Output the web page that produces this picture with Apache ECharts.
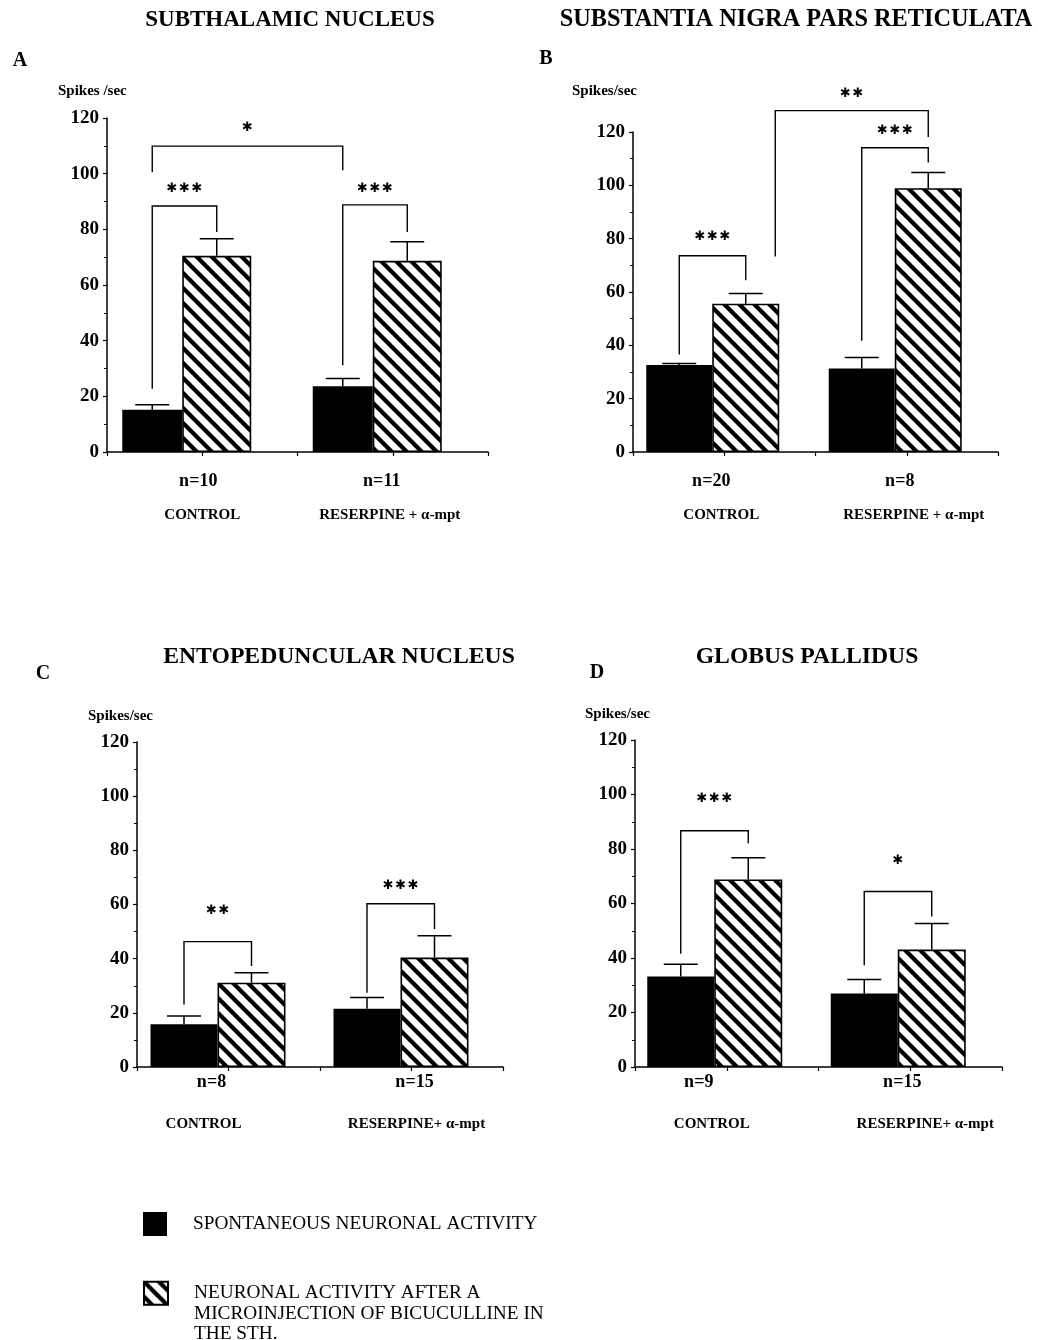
<!DOCTYPE html>
<html>
<head>
<meta charset="utf-8">
<script src="https://cdn.jsdelivr.net/npm/echarts@6/dist/echarts.min.js"></script>
<style>
html, body { margin: 0; padding: 0; background: #fff; }
#chart { width: 1038px; height: 1340px; }
</style>
</head>
<body>
<div id="chart"></div>
<script>
// ---- data ----
const panelTitles = ['SUBTHALAMIC NUCLEUS', 'SUBSTANTIA NIGRA PARS RETICULATA', 'ENTOPEDUNCULAR NUCLEUS', 'GLOBUS PALLIDUS']
const panelLetters = ['A', 'B', 'C', 'D']
const yNames = ['Spikes /sec', 'Spikes/sec', 'Spikes/sec', 'Spikes/sec']
const yTicks = [0, 20, 40, 60, 80, 100, 120]

const groupsTop = ['CONTROL', 'RESERPINE + α-mpt']
const groupsBottom = ['CONTROL', 'RESERPINE+ α-mpt']

const nA = ['n=10', 'n=11']
const nB = ['n=20', 'n=8']
const nC = ['n=8', 'n=15']
const nD = ['n=9', 'n=15']

// spontaneous activity (mean, SEM)
const spontA = [15.2, 23.6]
const spontErrA = [1.8, 2.8]
const spontB = [32.6, 31.3]
const spontErrB = [0.6, 4.1]
const spontC = [15.8, 21.5]
const spontErrC = [3.0, 4.2]
const spontD = [33.2, 27.0]
const spontErrD = [4.5, 5.1]

// after bicuculline (mean, SEM)
const bicA = [70.5, 68.7]
const bicErrA = [6.1, 6.8]
const bicB = [55.6, 98.9]
const bicErrB = [3.8, 5.9]
const bicC = [31.1, 40.4]
const bicErrC = [3.7, 8.1]
const bicD = [68.8, 43.1]
const bicErrD = [8.0, 9.6]

// significance brackets: [fromGroup, fromBar, toGroup, toBar, leftFoot, top, rightFoot, starLevel]
// bar 0 = spontaneous, 1 = bicuculline, 2 = right side of bicuculline bar
const bracketsA = [[0, 0, 0, 1, 22.7, 88.4, 79.0, 94.7], [1, 0, 1, 1, 31.2, 88.8, 79.0, 94.7], [0, 0, 1, 0, 100.5, 109.9, 101.2, 116.4]]
const starsA = ['***', '***', '*']
const bracketsB = [[0, 0, 0, 1, 36.6, 73.6, 64.4, 80.8], [0, 2, 1, 1, 73.3, 128.0, 118.1, 134.5], [1, 0, 1, 1, 41.7, 114.1, 108.6, 120.6]]
const starsB = ['***', '**', '***']
const bracketsC = [[0, 0, 0, 1, 23.1, 46.3, 37.3, 57.8], [1, 0, 1, 1, 27.4, 60.3, 51.0, 66.8]]
const starsC = ['**', '***']
const bracketsD = [[0, 0, 0, 1, 41.6, 86.7, 82.1, 98.4], [1, 0, 1, 1, 37.3, 64.4, 55.2, 75.6]]
const starsD = ['***', '*']

const legendSpont = 'SPONTANEOUS NEURONAL ACTIVITY'
const legendBic = 'NEURONAL ACTIVITY AFTER A\nMICROINJECTION OF BICUCULLINE IN\nTHE STH.'

// ---- layout ----
const panels = [
	{ n: nA, groups: groupsTop, spont: spontA, spontErr: spontErrA, bic: bicA, bicErr: bicErrA, brackets: bracketsA, stars: starsA,
		grid: { left: 107, top: 118, width: 381, height: 334 }, bw: [60, 69], spacer: 31,
		nMargin: 19, gLine: 48, nShift: [-4, -11], gShift: [0, -3],
		title: [290, 20], titleSize: 23, letter: [20, 61], yName: [58, 91] },
	{ n: nB, groups: groupsTop, spont: spontB, spontErr: spontErrB, bic: bicB, bicErr: bicErrB, brackets: bracketsB, stars: starsB,
		grid: { left: 633, top: 132, width: 365, height: 320 }, bw: [66, 67], spacer: 23,
		nMargin: 19, gLine: 48, nShift: [-13, -7], gShift: [-3, 7],
		title: [796, 20], titleSize: 24.3, letter: [546, 59], yName: [572, 91] },
	{ n: nC, groups: groupsBottom, spont: spontC, spontErr: spontErrC, bic: bicC, bicErr: bicErrC, brackets: bracketsC, stars: starsC,
		grid: { left: 137, top: 742, width: 366, height: 325 }, bw: [67, 68], spacer: 21,
		nMargin: 5, gLine: 64, nShift: [-17, 3], gShift: [-25, 5],
		title: [339, 657], titleSize: 23.7, letter: [43, 674], yName: [88, 716] },
	{ n: nD, groups: groupsBottom, spont: spontD, spontErr: spontErrD, bic: bicD, bicErr: bicErrD, brackets: bracketsD, stars: starsD,
		grid: { left: 635, top: 740, width: 367, height: 327 }, bw: [67, 68], spacer: 24,
		nMargin: 5, gLine: 64, nShift: [-28, -8], gShift: [-15, 15],
		title: [807, 657], titleSize: 23.7, letter: [597, 673], yName: [585, 714] }
]

const SERIF = 'Liberation Serif'

// diagonal hatch tile ("\" direction)
function makeHatch() {
	const s = 15
	const cv = document.createElement('canvas')
	cv.width = s
	cv.height = s
	const ctx = cv.getContext('2d')
	ctx.fillStyle = '#fff'
	ctx.fillRect(0, 0, s, s)
	ctx.strokeStyle = '#000'
	ctx.lineWidth = 4.2
	for (const x0 of [-s, 0, s]) {
		ctx.beginPath()
		ctx.moveTo(x0 - 3, -3)
		ctx.lineTo(x0 + s + 3, s + 3)
		ctx.stroke()
	}
	return cv
}
const hatch = { image: makeHatch(), repeat: 'repeat' }

// horizontal offset of a bar (from the category centre)
function barOffset(p, bar) {
	const left = -(p.bw[0] + p.bw[1] + p.spacer) / 2
	if (bar === 0) return left + p.bw[0] / 2
	if (bar === 1) return left + p.bw[0] + p.bw[1] / 2
	return left + p.bw[0] + p.bw[1] - 4
}

function shiftPad(dx) {
	return dx >= 0 ? [0, 0, 0, 2 * dx] : [0, -2 * dx, 0, 0]
}

const grids = []
const xAxes = []
const yAxes = []
const series = []
const graphics = []

panels.forEach((p, i) => {
	grids.push(Object.assign({ containLabel: false }, p.grid))

	const rich = {}
	for (let k = 0; k < 2; k++) {
		rich['n' + k] = { fontFamily: SERIF, fontWeight: 'bold', fontSize: 18, lineHeight: 20, color: '#000', padding: shiftPad(p.nShift[k]) }
		rich['g' + k] = { fontFamily: SERIF, fontWeight: 'bold', fontSize: 15, lineHeight: p.gLine, color: '#000', padding: shiftPad(p.gShift[k]) }
	}
	xAxes.push({
		type: 'category', gridIndex: i, data: p.n, position: 'bottom',
		axisLine: { show: true, lineStyle: { color: '#000', width: 1.5 } },
		axisTick: { show: true, length: 4, lineStyle: { color: '#000', width: 1.2 } },
		axisLabel: {
			margin: p.nMargin, interval: 0,
			formatter: (v, idx) => '{n' + idx + '|' + v + '}\n{g' + idx + '|' + p.groups[idx] + '}',
			rich: rich
		},
		splitLine: { show: false }
	})
	// second axis only for the ticks at group centres
	xAxes.push({
		type: 'category', gridIndex: i, data: p.n, position: 'bottom',
		axisLine: { show: false },
		axisTick: { show: true, alignWithLabel: true, length: 4, lineStyle: { color: '#000', width: 1.2 } },
		axisLabel: { show: false },
		splitLine: { show: false }
	})
	yAxes.push({
		type: 'value', gridIndex: i, min: yTicks[0], max: yTicks[yTicks.length - 1], interval: yTicks[1] - yTicks[0],
		axisLine: { show: true, lineStyle: { color: '#000', width: 1.5 } },
		axisTick: { show: true, length: 4, lineStyle: { color: '#000', width: 1.2 } },
		minorTick: { show: true, splitNumber: 2, length: 3, lineStyle: { color: '#000', width: 1 } },
		axisLabel: { margin: 8, color: '#000', fontFamily: SERIF, fontWeight: 'bold', fontSize: 19 },
		splitLine: { show: false }
	})

	series.push({
		name: 'spont', type: 'bar', xAxisIndex: 2 * i, yAxisIndex: i,
		barWidth: p.bw[0], barGap: 0, data: p.spont,
		itemStyle: { color: '#000' }, z: 2
	})
	series.push({
		name: 'bic', type: 'bar', xAxisIndex: 2 * i, yAxisIndex: i,
		barWidth: p.bw[1], barGap: 0, data: p.bic,
		itemStyle: { color: hatch, borderColor: '#000', borderWidth: 1.6 }, z: 2
	})
	series.push({
		name: 'spacer', type: 'bar', xAxisIndex: 2 * i, yAxisIndex: i,
		barWidth: p.spacer, barGap: 0, data: p.spont.map(() => 0), silent: true,
		itemStyle: { color: 'rgba(0,0,0,0)' }
	})

	// error bars (upper only)
	const errData = []
	for (let k = 0; k < p.spont.length; k++) {
		errData.push([k, p.spont[k], p.spontErr[k], 0])
		errData.push([k, p.bic[k], p.bicErr[k], 1])
	}
	series.push({
		type: 'custom', xAxisIndex: 2 * i, yAxisIndex: i, z: 5, silent: true,
		encode: { x: 0, y: 1 }, data: errData,
		renderItem: (params, api) => {
			const base = api.coord([api.value(0), api.value(1)])
			const top = api.coord([api.value(0), api.value(1) + api.value(2)])
			const x = base[0] + barOffset(p, api.value(3))
			const st = { stroke: '#000', lineWidth: 1.5 }
			return {
				type: 'group', children: [
					{ type: 'line', shape: { x1: x, y1: base[1], x2: x, y2: top[1] }, style: st },
					{ type: 'line', shape: { x1: x - 17, y1: top[1], x2: x + 17, y2: top[1] }, style: st }
				]
			}
		}
	})

	// significance brackets and stars
	series.push({
		type: 'custom', xAxisIndex: 2 * i, yAxisIndex: i, z: 6, silent: true, clip: false,
		encode: { x: 0, y: 5 }, data: p.brackets,
		renderItem: (params, api) => {
			const xl = api.coord([api.value(0), 0])[0] + barOffset(p, api.value(1))
			const xr = api.coord([api.value(2), 0])[0] + barOffset(p, api.value(3))
			const yl = api.coord([0, api.value(4)])[1]
			const yt = api.coord([0, api.value(5)])[1]
			const yr = api.coord([0, api.value(6)])[1]
			const ys = api.coord([0, api.value(7)])[1]
			const label = p.stars[params.dataIndex]
			const children = [{
				type: 'polyline',
				shape: { points: [[xl, yl], [xl, yt], [xr, yt], [xr, yr]] },
				style: { stroke: '#000', lineWidth: 1.4, fill: null }
			}]
			const cx = (xl + xr) / 2
			for (let k = 0; k < label.length; k++) {
				children.push({
					type: 'text',
					x: cx + (k - (label.length - 1) / 2) * 12.5, y: ys,
					style: { text: '✱', font: '13px "DejaVu Sans"', fill: '#000', align: 'center', verticalAlign: 'middle' }
				})
			}
			return { type: 'group', children: children }
		}
	})

	graphics.push({
		type: 'text', x: p.title[0], y: p.title[1],
		style: { text: panelTitles[i], font: 'bold ' + p.titleSize + 'px "Liberation Serif"', fill: '#000', align: 'center', verticalAlign: 'middle' }
	})
	graphics.push({
		type: 'text', x: p.letter[0], y: p.letter[1],
		style: { text: panelLetters[i], font: 'bold 20px "Liberation Serif"', fill: '#000', align: 'center', verticalAlign: 'middle' }
	})
	graphics.push({
		type: 'text', x: p.yName[0], y: p.yName[1],
		style: { text: yNames[i], font: 'bold 15px "Liberation Serif"', fill: '#000', align: 'left', verticalAlign: 'middle' }
	})
})

const legendText = { fontFamily: SERIF, fontSize: 19.3, color: '#000' }

const option = {
	backgroundColor: '#fff',
	animation: false,
	textStyle: { fontFamily: SERIF },
	grid: grids,
	xAxis: xAxes,
	yAxis: yAxes,
	legend: [
		{
			data: ['spont'], left: 143, top: 1212, padding: 0, orient: 'vertical', selectedMode: false,
			icon: 'rect', itemWidth: 24, itemHeight: 24,
			formatter: () => legendSpont,
			textStyle: Object.assign({ padding: [0, 0, 0, 21] }, legendText)
		},
		{
			// two empty lines first so that the first text line sits level with the icon
			data: ['bic'], left: 143, top: 1242, padding: 0, orient: 'vertical', selectedMode: false,
			icon: 'rect', itemWidth: 24, itemHeight: 23,
			formatter: () => '\n\n' + legendBic,
			textStyle: Object.assign({ padding: [0, 0, 0, 21], lineHeight: 20.5 }, legendText)
		}
	],
	graphic: graphics,
	series: series
}

const chart = echarts.init(document.getElementById('chart'))
chart.setOption(option)
</script>
</body>
</html>
